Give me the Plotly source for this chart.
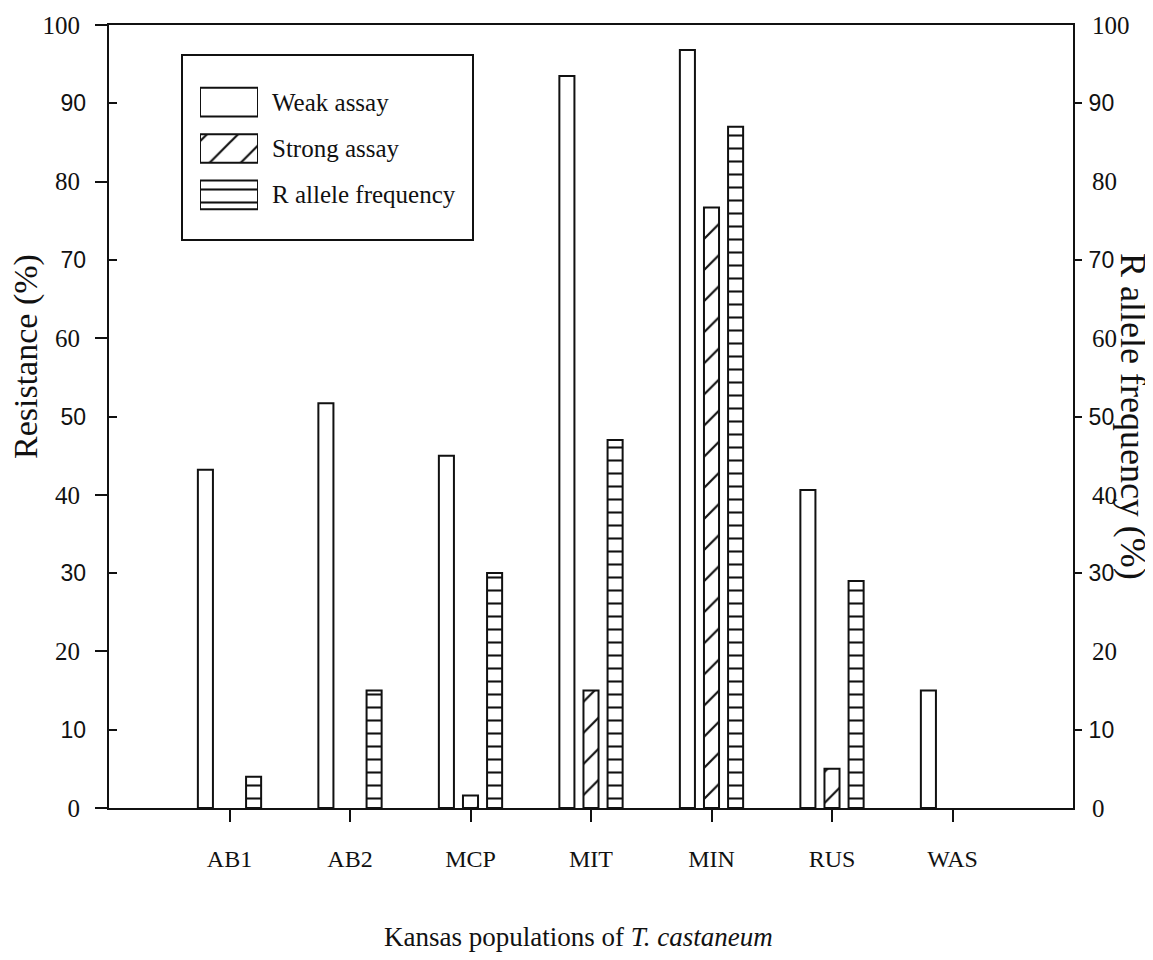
import plotly.graph_objects as go

# ---------------- data ----------------
populations = ["AB1", "AB2", "MCP", "MIT", "MIN", "RUS", "WAS"]
weak_assay = [43.2, 51.7, 45.0, 93.5, 96.8, 40.6, 15.0]
strong_assay = [0, 0, 1.6, 15.0, 76.7, 5.0, 0]
r_allele_freq = [4.0, 15.0, 30.0, 47.0, 87.0, 29.0, 0]

series_names = ["Weak assay", "Strong assay", "R allele frequency"]
even_ticks = [0, 20, 40, 60, 80, 100]
odd_ticks = [10, 30, 50, 70, 90]

# ---------------- style ----------------
SERIF = "Liberation Serif"
SANS = "Liberation Sans"
INK = "#111111"
BAR_W = 0.125
patterns = [
    dict(shape=""),
    dict(shape="/", fgcolor=INK, bgcolor="white", fgopacity=1, size=22, solidity=0.1, fillmode="overlay"),
    dict(shape="-", fgcolor=INK, bgcolor="white", fgopacity=1, size=13, solidity=0.16, fillmode="overlay"),
]
offsets = [-0.2 - BAR_W / 2, -BAR_W / 2, 0.2 - BAR_W / 2]


def styled(vals, family):
    return ['<span style="font-family:%s">%d</span>' % (family, v) for v in vals]


fig = go.Figure()
values = [weak_assay, strong_assay, r_allele_freq]
yaxes = ["y", "y", "y2"]
for name, vals, pat, off, ya in zip(series_names, values, patterns, offsets, yaxes):
    fig.add_trace(go.Bar(
        x=populations, y=[v if v > 0 else None for v in vals], name=name, yaxis=ya,
        width=BAR_W, offset=off,
        marker=dict(color="white", line=dict(color=INK, width=2), pattern=pat),
        showlegend=False,
    ))

# legend swatches drawn as bars on a small inset axis
for i, (name, pat) in enumerate(zip(series_names, patterns)):
    fig.add_trace(go.Bar(
        x=[1], y=[i], orientation="h", xaxis="x2", yaxis="y5", width=0.62,
        marker=dict(color="white", line=dict(color=INK, width=2), pattern=pat),
        showlegend=False, hoverinfo="skip",
    ))

# ---------------- layout ----------------
OFF = 8  # page body margin
W, H = 1153 - OFF, 960 - OFF
L, T = 109 - OFF, 25 - OFF
pw, ph = 964, 783
R, B = W - L - pw, H - T - ph


def px2x(px):
    return (px - OFF - L) / pw


def px2y(py):
    return (T + ph - (py - OFF)) / ph


axis_common = dict(range=[0, 100], showgrid=False, zeroline=False, fixedrange=True)

fig.update_layout(
    width=W, height=H,
    margin=dict(l=L, r=R, t=T, b=B, autoexpand=False),
    plot_bgcolor="white", paper_bgcolor="white",
    barmode="overlay",
    showlegend=False,
    font=dict(family=SERIF, color="#111"),
    xaxis=dict(
        type="category", range=[-1, 7], categoryorder="array", categoryarray=populations,
        showline=True, linecolor=INK, linewidth=2, mirror=True,
        ticks="outside", ticklen=12, tickwidth=2, tickcolor=INK,
        tickfont=dict(family=SERIF, size=24, color="#111"),
        ticklabelstandoff=16,
        showgrid=False, zeroline=False,
    ),
    yaxis=dict(
        **axis_common, side="left", anchor="x",
        tickmode="array", tickvals=even_ticks, ticktext=styled(even_ticks, SERIF),
        showline=True, linecolor=INK, linewidth=2,
        ticks="outside", ticklen=12, tickwidth=2, tickcolor=INK,
        tickfont=dict(family=SERIF, size=25, color="#111"),
        ticklabelstandoff=10,
    ),
    yaxis3=dict(
        **axis_common, side="left", anchor="x", overlaying="y",
        tickmode="array", tickvals=odd_ticks, ticktext=styled(odd_ticks, SANS),
        showline=False,
        ticks="inside", ticklen=8, tickwidth=2, tickcolor=INK,
        tickfont=dict(family=SANS, size=23, color="#111"),
        ticklabelstandoff=22,
    ),
    yaxis2=dict(
        **axis_common, side="right", anchor="x", overlaying="y",
        tickmode="array", tickvals=even_ticks, ticktext=styled(even_ticks, SERIF),
        showline=True, linecolor=INK, linewidth=2,
        ticks="",
        tickfont=dict(family=SERIF, size=25, color="#111"),
        ticklabelstandoff=12,
    ),
    yaxis4=dict(
        **axis_common, side="right", anchor="x", overlaying="y",
        tickmode="array", tickvals=odd_ticks, ticktext=styled(odd_ticks, SANS),
        showline=False,
        ticks="outside", ticklen=8, tickwidth=2, tickcolor=INK,
        tickfont=dict(family=SANS, size=23, color="#111"),
        ticklabelstandoff=2,
    ),
    xaxis2=dict(domain=[px2x(200), px2x(258)], anchor="y5", range=[0, 1],
                visible=False, fixedrange=True),
    yaxis5=dict(domain=[px2y(218), px2y(79)], anchor="x2", range=[2.5, -0.5],
                visible=False, fixedrange=True),
)

# invisible traces so the overlay axes y3 / y4 get drawn
fig.add_trace(go.Scatter(x=[populations[0]], y=[None], yaxis="y3", showlegend=False, hoverinfo="skip"))
fig.add_trace(go.Scatter(x=[populations[0]], y=[None], yaxis="y4", showlegend=False, hoverinfo="skip"))

# legend frame
fig.add_shape(type="rect", xref="paper", yref="paper",
              x0=px2x(182), x1=px2x(473), y0=px2y(240), y1=px2y(55),
              line=dict(color=INK, width=2), fillcolor="rgba(0,0,0,0)", layer="below")

# legend texts
for i, name in enumerate(series_names):
    fig.add_annotation(x=px2x(270), y=i, xref="paper", yref="y5", text=name,
                       xanchor="left", yanchor="middle", showarrow=False,
                       font=dict(family=SERIF, size=25, color="#111"))

# axis titles as annotations
fig.add_annotation(x=px2x(26), y=px2y(357), xref="paper", yref="paper",
                   text="Resistance (%)", textangle=-90, showarrow=False,
                   xanchor="center", yanchor="middle",
                   font=dict(family=SERIF, size=34, color="#111"))
fig.add_annotation(x=px2x(1133), y=px2y(416), xref="paper", yref="paper",
                   text="R allele frequency (%)", textangle=90, showarrow=False,
                   xanchor="center", yanchor="middle",
                   font=dict(family=SERIF, size=36, color="#111"))
fig.add_annotation(x=px2x(578), y=px2y(937), xref="paper", yref="paper",
                   text="Kansas populations of <i>T. castaneum</i>", showarrow=False,
                   xanchor="center", yanchor="middle",
                   font=dict(family=SERIF, size=27, color="#111"))

fig.write_html("out.html")
